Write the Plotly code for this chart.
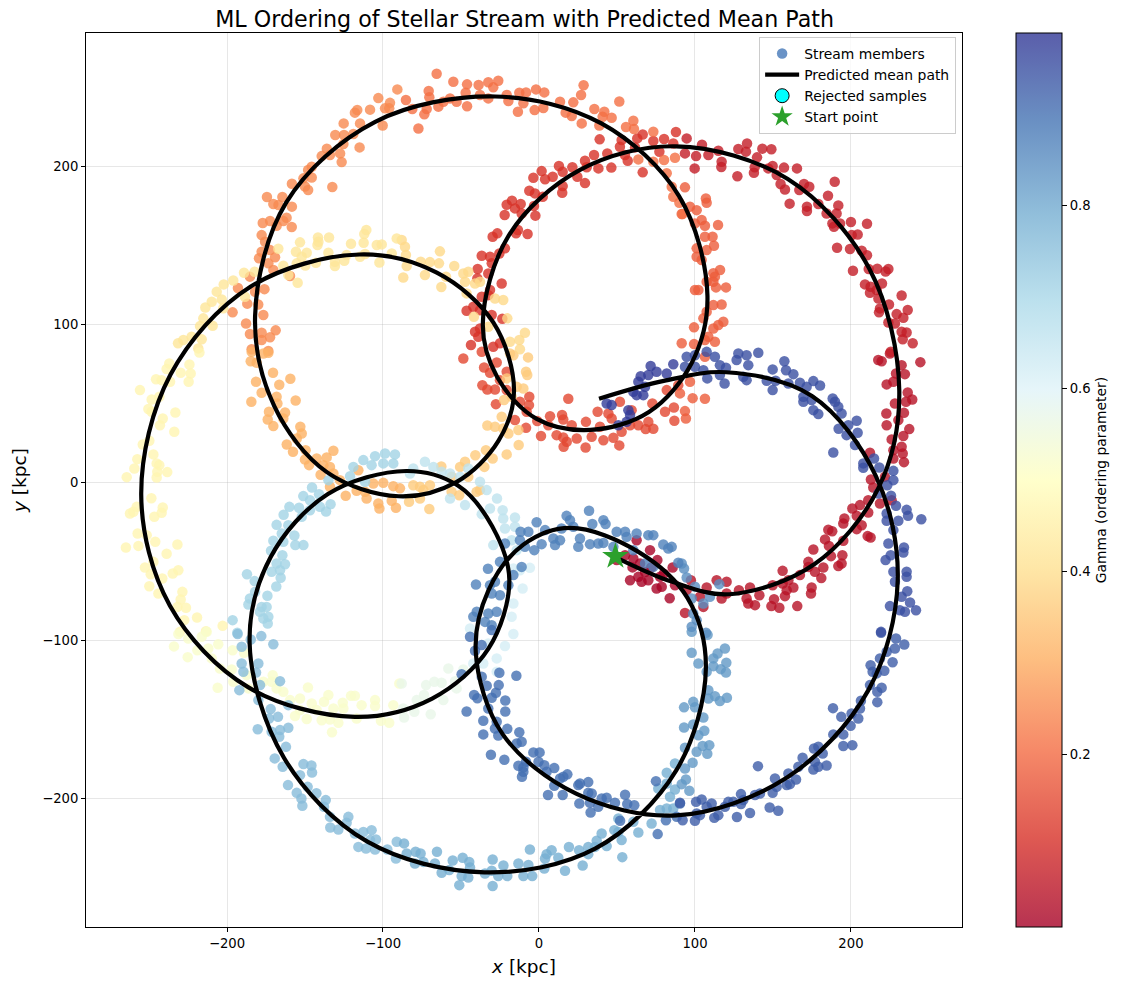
import plotly.graph_objects as go

# Stream members as (x, y) in kpc, grouped along the stream by ordering parameter.
crimson_head = [(62.6,-36.8),(71.2,-43.1),(49.8,-49.4),(55.2,-46.3),(60.5,-48.4),(64.8,-51.5),(75.9,-49.4),(58.4,-62.1),(63.7,-60),(65.8,-63.1),(70.1,-62.1),(75.4,-67.4),(78.7,-66.3),(77.6,-60),(85.7,-54.1),(83.8,-73.5),(87.2,-65.3),(68,-57),(60,-54),(72,-54),(80,-58)]
crimson_arc = [(225,81.4),(217.5,77.2),(219.7,76.5),(244.5,75.9),(232.5,74),(228.9,68.7),(234.6,68.3),(227.2,63.5),(222.9,61.8),(236.4,56.7),(239.3,52.3),(228.2,49.7),(235.3,50.8),(234,43.8),(222.7,43.4),(230.4,39.2),(222.9,36),(237.4,33.5),(233.6,29.1),(226.1,27),(232.5,22.3),(227.2,20.2),(233.2,18.1),(234,12.6),(227.2,14.9),(212.2,18.5),(212.8,1.6),(221.8,3.3),(214.3,-3.4),(211.1,-11.5),(218.6,-13.6),(226.1,-11.5),(205.8,-14.6),(200.9,-16.7),(211.1,-19.3),(203.7,-21.4),(195.8,-23.1),(195.1,-26.2),(206.9,-27.3),(203.7,-29.8),(185.5,-30.2),(188,-31.1),(210.7,-34.2),(212.6,-35.1),(183.4,-36.3),(195.1,-37.2),(185.9,-40.4),(175.9,-42.7),(194.5,-46.3),(187.2,-46.9),(194,-51.5),(191.9,-53.2),(172.7,-50.5),(172.7,-53.7),(182.3,-54.1),(176.9,-56.8),(156.2,-56.2),(167.3,-58.9),(181,-60.8),(159.9,-62.1),(156.2,-64.2),(163.1,-66.7),(149.8,-65.3),(174.8,-66.7),(174.4,-70.5),(158.8,-68.4),(157.7,-72.2),(150.7,-74.1),(165.6,-78.5),(149,-78.5),(154.1,-79.6),(141.3,-71.6),(135.3,-66.7),(128.2,-68.4),(120.3,-63.1),(113.9,-62.1),(97.4,-62.1),(107.5,-66.7),(120.3,-70.5),(117.1,-73.7),(133.1,-73.7),(134.2,-76.9),(138.5,-77.9),(103.2,-72.6),(105.4,-79),(93.6,-82.8),(94.7,-68.4)]
red_outer = [(94.7,217.5),(104.5,213.5),(93.6,208),(100.7,206.3),(108.6,207),(115,209.7),(117.1,202.7),(99.8,198.5),(116.9,199.4),(127.2,193.5),(127.8,210.8),(133.4,214.3),(132.7,209.1),(143.2,211),(149,210.6),(139.8,205.5),(138.3,199.2),(137.8,195.8),(147,198.5),(149.8,200),(157.1,199),(165.4,198.5),(152.4,194.3),(154.9,188.6),(157.7,185.2),(169.9,188.6),(173.3,186.9),(166.9,184.8),(189.6,190.1),(185.3,181.2),(160.7,176.2),(171.8,174.3),(171.8,171.5),(179.1,176),(191.9,175.1),(184.4,170),(190.8,170),(188.1,163.7),(193,163.7),(189.1,161.6),(200,164.6),(210.3,163.5),(200.5,156.3),(204.3,156.7),(191.1,148.3),(199.4,147.5),(206.9,146.4),(210.3,143.5),(201.3,133.7),(211.4,134.8),(216.9,135),(224,134.8),(222.2,133.3),(209,125.1),(212.6,123.6),(219.9,125.7),(212.2,119.8),(216.5,121.5),(232.5,118.1),(217.6,116.2),(224.4,112.4),(218.6,109.9),(236.4,108.9),(218,107.4),(229.3,106.3),(233.6,104),(224,101),(228.2,100.4),(232.5,95.1),(235.7,94.7),(233.2,90.3),(239.6,87.8),(225.5,82.5)]
red_inner = [(87.8,221.5),(66.5,220),(38.9,216.9),(63,217.5),(73.3,215.8),(80.2,217.1),(53,216.5),(86.1,214.3),(51.9,212.2),(61.6,211.8),(77.2,209),(55.1,207),(56.9,203.4),(66.5,196),(43.8,208),(35.3,207),(29.5,203.4),(38.1,198.5),(46.4,199),(30.6,199.2),(21.4,199.2),(12.8,200),(24.6,193.2),(1.7,196.8),(15.2,196.4),(-3.6,192.6),(3.9,191.6),(8.8,193.2),(29.5,189.2),(15.2,187.3),(14.9,183.1),(-6.2,184.4),(-2.6,182.7),(2.4,180.6),(-17.3,178.1),(-20.7,175.5),(-11.7,176),(-3.2,174.7),(-15.4,173.2),(-22,169),(-11.1,170),(-2.3,168.6),(-26.7,157.4),(-29.7,155.3),(-13.5,159.5),(-14.7,157.4),(-7.3,157),(-21.8,147.9),(-25.4,144.7),(-36.7,143.2),(-31.4,142.6),(-30.3,138.4),(-39.3,134.8),(-39.5,128.9),(-32.5,132),(-23.9,125.7),(-31.4,121.5),(-36.7,117.3),(-32.5,118.3),(-46.4,108.4),(-42.1,111),(-37.8,108.8),(-30.3,105.7),(-23.5,103.4),(-41,95.1),(-37.8,97.2),(-38.9,92),(-43.6,86.7),(-29.3,85.6),(-25,87.8)]
red_orange = [(-48.5,78.2),(-36.7,82.4),(-27.1,75.7),(-35.2,72.5),(-31.4,69.2),(-20.7,69.8),(-25,64.5),(-36.3,61.3),(-33.1,58.6),(-28.2,58.6),(-20.7,58.2),(-6.2,54),(-12.2,50.8),(-6.4,48.7),(-27.6,49.3),(18.8,52.7),(-7.9,44.5),(-15.4,39.2),(-8.3,34.3),(-1.1,38.6),(7.1,41.7),(14.8,42.4),(15.6,39.6),(21,36),(6,36),(1.3,29.1),(30.1,38.1),(11.3,29.7),(15.6,28.2),(24.2,27.6),(15.8,22.3),(17.8,25.5),(29.9,21.9),(33.8,28.6),(37.6,44.5),(39.1,35),(44.5,43.4),(46.6,40.2),(41.3,26.5),(47.7,28),(51.5,23.2),(51.9,50.8),(53,31.8),(59.4,45.5),(63.7,36),(58.4,36),(68.4,33.5),(70.1,38.1),(73.3,33.7),(72.7,49.7),(81.9,58.2),(80.8,44.5),(86.5,47.2),(86.8,38.8),(89.3,61.3)]
orange_right = [(93.6,186.5),(107,179.5),(107.5,176.8),(96.8,174.3),(101.1,172.1),(91.5,169.6),(104.3,165.8),(100,163.7),(106.4,162.2),(114.8,162.7),(106.4,155.3),(111.3,155.3),(112.2,149.6),(101.1,147.9),(107.5,146.8),(101.1,142.6),(104.3,140.5),(116.1,134.2),(111.8,132.1),(112.8,130),(107.5,126.8),(111.8,126.8),(119.9,123.2),(113.5,123.2),(100,121.5),(102.2,121.5),(117.1,112.4),(111.8,112),(107.5,107.8),(105.4,103.6),(118.2,101.5),(115,99.4),(99.4,97.9),(111.8,97.2),(108.6,92),(112.8,88.8),(99.4,87.3),(106.4,89.9),(91.5,87.8),(106.4,79.3),(98.5,53.1),(106.4,52.7),(93.6,44.9),(94.2,40.2),(96.8,63.5),(90.4,56.1)]
orange_top = [(-65.6,258.4),(-54.9,253.4),(-70.7,247.5),(-46.1,251.7),(-38.7,251.3),(-32.5,253),(-26.1,254),(-29.3,249.8),(-47,246.4),(-70.3,243.5),(-57,242.8),(-85.3,241.8),(-61.3,240.7),(-52.8,240.7),(-37.8,245),(-32.5,242.8),(-20.7,245),(-12.6,246.4),(-8.3,246.6),(-1.9,248.5),(3.4,246.6),(-81.2,236.1),(-64.5,237.6),(-72,236.1),(-73.5,232.7),(-46.1,237.8),(-19.6,241.1),(-10,239.7),(-13.5,234.4),(-2.8,235.4),(2.8,236.7),(-77.3,223.8),(28.6,251.1),(27,245),(13.5,240.7),(22,240.3),(51.5,240.9),(35.5,236.1),(17.1,233.8),(21,231.7),(41.9,234.4),(40.8,231.2),(46.6,230.6),(27.4,227),(38.7,225.7),(55.8,224.7),(60.5,228.7),(60.9,223.4),(63.7,204.2),(80.2,203.8),(87.2,205.3),(73.3,202.7),(81.9,195.4),(85.1,186.9),(86.1,180.6),(90,176.8),(73.3,221.7),(92,169.6)]
orange_left = [(-90.8,248.5),(-103,243),(-95.5,240),(-98.7,236.5),(-96,236.5),(-108.3,235.7),(-116.5,235.5),(-118,233.8),(-125.2,227),(-114.7,227),(-100.2,225.7),(-130.6,219.6),(-125,219.6),(-119,220.3),(-125.4,214),(-115,211.8),(-136,211),(-127.5,208),(-134,207),(-139.3,206.3),(-126.5,202.5),(-145.7,199.6),(-148,197.5),(-145.7,192.8),(-151,192.2),(-158.4,188.8),(-150,187),(-148,184.8),(-132.5,186.7),(-174.4,180.4),(-164.5,180.4),(-170.3,176),(-167,175.3),(-158.4,174.3),(-161.8,167.3),(-172.4,165.2),(-163.9,165.2),(-177.1,163.9),(-168.2,162.2),(-158.5,161.4),(-177.8,156.3),(-175.6,152.1),(-172.4,146.8),(-177.8,145.8),(-179.5,141.6),(-169.2,142.2),(-173.5,138.4),(-170.3,134.2),(-159.6,130.4),(-185.3,130),(-193,122.8),(-176,122.1),(-182,120.4),(-187,112.9),(-180,112.4),(-196.4,107.4),(-176.7,105.7),(-187.8,100.4),(-168.8,96),(-185.3,93.7),(-177.8,94.5),(-172.4,91.6),(-177.8,89.9),(-184.2,84),(-173.5,83)]
orange_low = [(-184.2,82.4),(-176.7,81.4),(-173.5,81.8),(-184.8,76.5),(-181,75.5),(-170.5,69.2),(-159.4,65.4),(-181.4,63.5),(-166.5,61.6),(-177.8,56.5),(-168.2,54),(-156,51.6),(-184.4,50.8),(-167.7,49.7),(-173.1,44.5),(-162.8,44),(-173.9,39.6),(-163.9,40.2),(-170.3,35.4),(-153,35),(-152.1,30.7),(-155.3,27.6),(-161.7,23.8),(-157.7,19.1),(-149.6,20.2),(-131.8,19.8),(-150,14.3),(-142.5,14.9),(-136.1,15.6),(-147.4,10.7),(-138.2,10.7),(-134,9.6),(-131.8,5.4),(-140,4.6),(-127.6,1.2),(-134,-3),(-115.8,7.5),(-123.9,-8.7),(-116.9,-5.5),(-110.5,-10.4),(-99.8,-0.5),(-106.2,-0.9),(-93.4,-2.6),(-103,-13.6),(-102.3,-16.7),(-94.4,-11.9),(-91.7,-16.3),(-111.5,-6.2),(-89.1,-4)]
tan_low = [(-18.6,81.4),(-16.4,80.3),(-7,78.9),(-8.3,69.8),(-7.5,67.7),(-20.7,65.6),(-14.3,60.3),(-10,59.2),(-17.5,54),(-22.4,51.9),(-23.9,41.3),(-33.1,35.8),(-28.2,35),(-22.9,33.9),(-13.2,32.9),(-19.6,30.7),(-13,23.4),(-34,20.2),(-40.8,17),(-29.7,14.9),(-20.7,17.5),(-47.4,12.8),(-35,9.6),(-50.6,9.6),(-62.6,9.9),(-56,3.3),(-45.3,3.3),(-56,-6.2),(-51.1,-8.3),(-37.8,-5.1),(-40,-6.2),(-69.9,-2),(-76.3,-3),(-80.6,-2),(-76.3,-10.4),(-83.3,-12.5),(-70.3,-17.1),(-74.1,-5.1)]
tan_high = [(-88,153.2),(-85.9,148.9),(-85.3,143.7),(-75.8,139.4),(-69.9,139.2),(-64.1,138.4),(-63.5,146),(-84.8,136.7),(-73.1,131),(-87,129.5),(-59.6,129.9),(-54.3,136.7),(-62.6,123.4),(-48.5,132),(-45.3,133.1),(-47.4,126.8),(-41,125.7),(-37.8,126.8),(-46.4,119.4),(-28.2,116.2),(-22.9,115.2),(-41.7,104.6),(-20.3,103.6),(-32.5,98.3),(-9,94.5),(-18.6,88.8),(-12.6,89.9),(-12.2,84)]
sand_arc = [(-110.7,159.5),(-112,157),(-141.7,154.8),(-134.6,154.8),(-91.2,154.2),(-153.2,151.7),(-141.4,152.1),(-120.5,150.8),(-112.4,151.5),(-104,150),(-100.8,150.4),(-167.1,147.7),(-142,150),(-155.8,145.8),(-148.9,145.1),(-135,145.1),(-152.1,142.6),(-123.3,143.7),(-111.5,144.3),(-94.4,144.7),(-143,138.8),(-130.8,139.4),(-124.8,140),(-114.7,142.6),(-102.3,139),(-155.3,138.4),(-149.8,137.1),(-130.8,136.7),(-163.9,136.9),(-189.1,132.5),(-182.3,133.1),(-160.7,131),(-154.7,126.1),(-196,127.6),(-202.1,125.1),(-206.6,120.5),(-203.4,115.6),(-209.8,114.1),(-188.5,117.3),(-213.9,110.5),(-202.4,110),(-215.2,103.6),(-217.3,98.7),(-209.2,98.9),(-222.7,92),(-216.2,90.3),(-228,89.9),(-231.4,87.8),(-218.4,84.6)]
pale_left = [(-217.7,82),(-224.1,74.4),(-237,75),(-238.7,71.5),(-229.7,69.2),(-223.3,68.7),(-245.5,65.1),(-241.9,64.5),(-236.5,63.5),(-224.6,63.5),(-255.8,58.2),(-243.4,54),(-248.3,52.3),(-250.4,46.2),(-248.3,44.5),(-233.1,44),(-241.2,40.2),(-243,36),(-233.8,31.8),(-249.8,26.1),(-254,23.8),(-247.2,17.5),(-257.5,14.5),(-245.1,11.8),(-243.4,10.7),(-259.4,8.6),(-238.3,6.3),(-244.7,6.5),(-245.1,2.9),(-264.3,3.1),(-248.5,-10.2),(-241.2,-16.1),(-257.9,-15.7),(-241.9,-19.5),(-262.2,-19.9),(-260,-18.8),(-246.6,-22),(-257.3,-32.6),(-251.5,-33.6),(-246,-37.8),(-231.8,-39.5),(-256.8,-40.4),(-264.8,-41.4),(-238.7,-45.4),(-247.2,-50.5),(-252.6,-54.1),(-231.2,-55.8),(-234.8,-57.9),(-248.9,-58.3),(-241.5,-61),(-249.8,-65.9),(-244,-70.5),(-228.6,-69.5),(-229.7,-74.3),(-231.8,-79),(-226.3,-79.6),(-219.2,-85.7),(-227.4,-87.4),(-213.5,-94.4),(-202.8,-91),(-230.1,-94.8)]
pale_low = [(-231.2,-96.2),(-224.8,-99),(-234,-104),(-216.2,-97.9),(-213,-94.8),(-205.6,-102.6),(-219,-106.4),(-225.2,-110.8),(-212,-105.3),(-196.4,-106.4),(-189.1,-108),(-209.8,-111.6),(-204.5,-118),(-197,-118.6),(-196,-126.4),(-206,-130.2),(-187.4,-122.2),(-176.7,-126.4),(-170.7,-122.2),(-171.4,-126.4),(-163.9,-132.7),(-186.3,-130.6),(-168.2,-130.6),(-148.1,-130),(-153.2,-137),(-145.7,-140.1),(-159.6,-138),(-137.8,-139),(-135,-134.8),(-120.5,-135.3),(-118,-135.3),(-113.7,-141.2),(-105.1,-138),(-105.1,-141.8),(-93.4,-141.2),(-125.8,-139.7),(-131.8,-143.3),(-125.4,-143.3),(-156.4,-148.1),(-148.9,-150),(-139.3,-150.7),(-134,-150.3),(-128.6,-152.4),(-116.9,-149.6),(-101.3,-151.1),(-96,-152.4),(-132.7,-158.3),(-89.5,-127.5),(-153.2,-144.3),(-142.5,-144.3)]
pale_green = [(-88,-127.5),(-72.4,-128.5),(-67.1,-126.4),(-62.4,-127),(-58.1,-118),(-53.8,-126),(-48.5,-118.6),(-52.8,-130.6),(-73.7,-134.8),(-78.4,-138),(-61.3,-138),(-69.4,-146.9),(-79.9,-145.4),(-86.5,-149),(-87,-143.3)]
mint_arc = [(-16.4,-96.2),(-21.8,-103.8),(-27.1,-111.6),(-32.5,-102.1),(-35.7,-114.8),(-42.1,-114.8),(-27.1,-120),(-10.5,-67.4),(-16.4,-76.9),(-17.5,-85.3),(-44.2,-92.7),(-5.8,-54.3),(-16.4,-54.7),(-12.2,-55.8)]
pale_blue = [(-73.1,12.8),(-80.6,8.6),(-82.7,5.4),(-67.7,9.6),(-62.4,6.5),(-57,5.4),(-45.3,8.6),(-50.6,3.3),(-37.8,0.2),(-33.5,-5.1),(-57,-10.4),(-26.9,-10.4),(-47.4,-14.6),(-31.4,-16.7),(-36.7,-20.3),(-23.3,-17.8),(-15.4,-22.4),(-22.9,-23.1),(-21.8,-29.4),(-15.4,-28.3),(-17.5,-36.8),(-29.3,-39.9),(-14.3,-43.1)]
light_blue = [(-105.1,16.4),(-98.7,18.1),(-92.3,17.5),(-112.6,13.9),(-99.8,11.8),(-93.4,11.8),(-119,9.6),(-107.3,10.7),(-121.1,3.7),(-111.5,0.2),(-135,1.2),(-145.5,-3.4),(-151.1,-8.9),(-141,-7.7),(-146.8,-11.5),(-160,-15.7),(-153.8,-16.3),(-133.6,-14),(-140.4,-15.7),(-136.5,-18.6),(-146.8,-17.8),(-163.7,-20.7),(-152.1,-22),(-168.2,-27.1),(-160.7,-27.3),(-164.9,-32.6),(-156.8,-33.8),(-170.3,-37.2),(-163.9,-37.8),(-156.2,-39.9),(-151,-39.9),(-171.8,-43.5),(-164.5,-46.3),(-162.8,-52),(-168.2,-51.5),(-171.4,-56.8),(-166,-55.8),(-187.2,-58.3),(-165.6,-60.6),(-182.3,-62.7),(-168.4,-66.1),(-182,-69.5),(-174.1,-72),(-185.3,-73.7),(-186.3,-77.5),(-177.8,-79),(-174.6,-79),(-178.9,-82.1),(-173.5,-85.3),(-176.7,-86.4),(-173.9,-89.5),(-196.4,-87.4),(-193.4,-95.4)]
sky_left = [(-193.2,-96.2),(-184.8,-99.6),(-178,-97.5),(-170.3,-102.6),(-190.6,-104.2),(-190.6,-114.8),(-179.9,-114.8),(-189.5,-120.1),(-181.4,-120.5),(-166,-126),(-192.1,-131.7),(-178.8,-128.5),(-179.9,-138),(-160.7,-141.2),(-172,-143.7),(-167.3,-148.6),(-173.1,-149.6),(-180.3,-156.4),(-160.7,-155.5),(-166,-157),(-171.4,-158),(-166.5,-161.2),(-162.2,-167.6),(-169.4,-174.9),(-164.3,-180.2),(-151,-178.5),(-145.9,-179.4),(-145.5,-183.8),(-153.2,-185.5),(-160.9,-191.8),(-148.3,-192.9),(-155.3,-196.7),(-142.7,-196.9),(-152.3,-200.3),(-151.7,-204.9),(-136.7,-201.3),(-137.8,-205.5),(-134,-211.9),(-122.2,-211.9),(-123.3,-215.7),(-133.8,-218.6),(-128.6,-219.9),(-118,-222.4),(-112.6,-221.4),(-107.3,-220.3),(-104.5,-226.2),(-91.2,-227.7),(-115.8,-230.9),(-105.1,-232.5),(-110.9,-231.9),(-97.2,-232.5),(-91.7,-238.2),(-108.3,-226.6)]
sky_bottom = [(-86.5,-228.7),(-84.8,-235.1),(-79.1,-234),(-75.9,-235.1),(-79.5,-241.4),(-74.1,-240.4),(-65.4,-234),(-66.7,-241.4),(-62.4,-247.3),(-55.3,-239.5),(-57.5,-245.6),(-48.9,-237.8),(-44.7,-240.4),(-44.2,-243.9),(-49.6,-249.4),(-45.3,-250.3),(-51.1,-255.1),(-29.7,-238.9),(-29.7,-255.7),(-34.6,-247.7),(-30.3,-246),(-26.1,-249.4),(-22.8,-242.7),(-20.3,-249.4),(-13.2,-241.4),(-10,-249.4),(-6.8,-242.4),(-4.3,-249.4),(-5.8,-232.5),(3.9,-238.2),(4.9,-235.5),(8.1,-233),(12.4,-237.8),(3.4,-244.6),(16.7,-246),(19.2,-231),(25.7,-233),(28,-242.7),(31.6,-230.9),(31.6,-235.5),(37,-227),(35.9,-230.9),(43.4,-230.4),(40.2,-222.4),(48.3,-220.3),(53,-226.6),(53.4,-237.4),(50.9,-212.9),(50.9,-221.4),(60.5,-215),(63.7,-221.8),(72.2,-216.1),(76.5,-193.9),(81.9,-184),(84,-199.2),(87.2,-178.1),(87.2,-194.6),(77.6,-207.6),(81.9,-206.6),(86.1,-206.6),(81.9,-190.8)]
mid_blue = [(97.9,-94.8),(108.1,-96.7),(119.2,-105.3),(114.5,-108.5),(97.9,-108),(111.8,-111.6),(102.2,-114.8),(120.1,-114.4),(111.8,-116.5),(116.5,-118.4),(119.9,-120.5),(107.5,-120.1),(108.6,-131.7),(112.8,-135.5),(120.5,-136.5),(116,-138.6),(108.6,-137),(93,-142.6),(98.9,-139.1),(100,-142.6),(105.4,-149),(98.9,-153.4),(93,-155.3),(106,-157.4),(102.2,-160.2),(109.2,-166.5),(104.9,-167.1),(107.9,-172),(93.6,-168.2),(101.1,-170.7),(98.5,-177.7),(93.6,-181.3),(94.2,-188.2),(91.5,-191.2),(96.4,-195.4)]
steel_right = [(91.5,-51.5),(93,-54.7),(94.7,-60.4),(100,-66.3),(115.6,-64.6),(109.6,-72.6),(97.9,-73.7),(105.4,-76.9),(98.9,-83.2),(101.1,-87.4),(97.9,-91.6),(107.1,-95.4)]
steel_top = [(32.1,-18.2),(17.7,-21.4),(19.9,-24.1),(34.2,-26.6),(-1.5,-25.4),(3.9,-30.4),(41.3,-24.1),(42.7,-26.6),(14.5,-29.4),(22,-28.3),(-11.8,-31.5),(-6.8,-31.5),(49.8,-31.5),(55.2,-31.5),(62.6,-32.6),(70.1,-33.6),(73.3,-33.6),(9.2,-35.7),(13.5,-36.8),(26.3,-35.7),(1.7,-39.3),(10.3,-39.9),(25.2,-41),(32.7,-39.3),(38,-38.9),(41.3,-38.5),(47.7,-41),(56.2,-34.7),(-3,-43.1),(-9,-41),(-12.2,-36.8),(79.7,-39.5),(82.9,-42),(85.1,-41),(60.5,-43.1),(89.3,-51.1),(73.3,-53.7),(68,-51.5),(-21.8,-38.9),(-25,-50.5),(-32.7,-54.9),(-40.4,-64.8),(-16.4,-58.9),(-11.1,-53.7),(-28.2,-63.1),(-31.4,-65.3),(-19.6,-65.3),(-25,-71.6),(-30.3,-70.5),(-39.9,-82.1),(-42.1,-85.3),(-32.5,-83.2),(-27.1,-82.1),(-34.6,-88.5),(-30.3,-90.6)]
steel_low = [(-44.2,-97.9),(-30.3,-93.7),(-41,-106.8),(-36.7,-103.2),(-49.6,-121.6),(-25.4,-120.7),(-14.5,-122.6),(-36.7,-123.2),(-33.5,-128.9),(-25.8,-128.5),(-27.6,-133.4),(-41.6,-134.8),(-39.5,-136.9),(-30.3,-136.5),(-21.6,-138.2),(-32.5,-143.3),(-46.4,-145.2),(-21.6,-145.2),(-35.7,-151.1),(-27.1,-151.7),(-20.3,-156.2),(-28.2,-156),(-35.7,-159.7),(-26.1,-160.4),(-12.6,-158.3),(-11.1,-164.4),(-14.3,-165.4),(-30.8,-172.6),(-22.2,-175.8),(-3.6,-171.1),(0.4,-171.1),(-8.3,-177),(-0.3,-177),(-13.2,-179.6),(-10,-180.6),(-10,-183.4),(-10.9,-186.5),(3.4,-179.2),(9.8,-181),(4.9,-183.4),(18.2,-185),(13.5,-187.6),(15.6,-186.5),(9.8,-192.2),(5.8,-198.1),(15.2,-198.1),(25.2,-191.8),(26.3,-190.8),(31.6,-189.9),(31.6,-196.7),(33.8,-197.1),(25.9,-203.4),(32.7,-203),(33.1,-209.1),(38,-205.5),(43.4,-199.8),(40.2,-200.3),(48.7,-203),(55.2,-197.9),(56.6,-203.8),(61.1,-204.5),(52,-214.4),(75,-189.3),(76.1,-222.8),(81.4,-214),(88.3,-211.9),(90.4,-203.4)]
blue_low = [(90.4,-203),(100.7,-202.4),(104.3,-200.9),(110.7,-203.4),(107.5,-205.5),(101.1,-209.7),(92.1,-214),(100,-214.4),(112.4,-212.5),(115,-210.8),(103.2,-210.8),(121.4,-202.4),(129.5,-197.5),(131,-201.3),(129.5,-203.8),(124.6,-202.4),(119.2,-205.5),(126.9,-212),(135.3,-209.5),(138.5,-198.1),(141.7,-197.1),(147.9,-206),(153.4,-208),(149.8,-196.7),(140.4,-179.8),(151.3,-187.6),(152.4,-192.9),(158.8,-191.8),(160.9,-191.2),(164.8,-188.2),(159.9,-184.4),(166.3,-180.2),(169,-174.5),(175.9,-181.9),(179.1,-180.2),(176.9,-177),(184.4,-179.4),(176.3,-168.6),(179.1,-167.5),(181.9,-171.8),(188.7,-159.7),(195.1,-159.7),(195.1,-167.1),(200.9,-166.5),(188.5,-143.1),(193.8,-148.6),(199.8,-154.3),(204.7,-149.6),(200.4,-146.5),(206.4,-138.4),(205.8,-143.3),(216.9,-139.3),(212.2,-128.5),(216.9,-132.7),(219.7,-130.2),(212.6,-115.9),(213.9,-120.1),(216.5,-121.1),(221.4,-119.4),(218.6,-111.6),(226.7,-114),(222.9,-107.4),(228.2,-105.3),(228.9,-99),(234.2,-102.8),(219.3,-95.4)]
blue_arc = [(94.7,79.3),(100,80.3),(107.5,82.4),(112.8,79.3),(127.8,81.4),(126.7,77.2),(133.1,80.3),(140.6,81.8),(134.2,74),(93.6,73),(100,73),(105.4,70.8),(116,74),(119.9,72.3),(107.9,65.6),(116,67.7),(119,62.4),(131,66.6),(133.1,64.5),(149.8,71.3),(157.3,76.5),(158.4,70.8),(163.1,68.3),(146,64.1),(151.7,64.1),(159.9,62.4),(149.8,58.2),(167.3,62.8),(175.9,63.9),(180.2,61.1),(171.6,60.3),(169.5,54),(169.5,50.8),(174.8,51.9),(188.3,52.9),(189.8,50.8),(175.9,45.5),(179.1,43),(191.9,47.6),(194,43.4),(203.7,38.8),(192.1,33.7),(198.3,36),(204.3,31.2),(197.2,29.7),(202.6,23.4),(188.7,18.7),(214.8,14.9),(207.9,11.8),(207.9,9),(218.2,9.2),(227.2,7.1),(227.2,1.2),(223.3,-2),(217.6,-7.2),(225.7,-8.7),(228.9,-15),(235.7,-17.6),(236.6,-21.4),(245.1,-23.5),(222.9,-19.9),(222.9,-24.5),(230.4,-24.5),(227.2,-30.4),(224,-38.9),(234,-41.4),(225.5,-46.3),(233.6,-44.6),(222.2,-49.4),(227.2,-56.8),(235.7,-56.8),(235.7,-60),(228.2,-63.1),(236.1,-69.1),(232.5,-72.6),(237.9,-76.2),(225,-78.5),(241.7,-81.1),(234.6,-82.1),(231.4,-81.1),(219.3,-94.8)]
navy_tail = [(71.6,73.4),(65.2,67),(70.1,67.7),(75.4,69.8),(81.9,68.7),(86.1,74.6),(63.7,63.5),(60.5,57.1),(68,60.3),(66.9,55),(62.6,55),(43.4,49.7),(46.6,48.7),(57.3,45.5),(58.4,42.4),(50.9,36),(56.2,38.1)]

stream_groups = [crimson_head, crimson_arc, red_outer, red_inner, red_orange, orange_right, orange_top, orange_left, orange_low, tan_low, tan_high, sand_arc, pale_left, pale_low, pale_green, mint_arc, pale_blue, light_blue, sky_left, sky_bottom, mid_blue, steel_right, steel_top, steel_low, blue_low, blue_arc, navy_tail]
group_gamma = [0.015, 0.045, 0.07, 0.11, 0.145, 0.18, 0.21, 0.25, 0.31, 0.36, 0.39, 0.42, 0.47, 0.52, 0.57, 0.62, 0.66, 0.71, 0.76, 0.79, 0.83, 0.85, 0.87, 0.90, 0.93, 0.95, 0.98]

# Predicted mean path, from the start point out along the spiral.
mean_path = [(48,-47),(85,-63),(122,-71),(176.5,-52),(217.5,-4),(231,58),(211.8,135),(159.5,191.8),(88,212.5),(26,197.4),(-19.4,156),(-36,100),(-26.8,66.5),(-1.5,40),(33,33),(70.5,44.4),(98,75.5),(108,118),(89.8,181),(40,227),(-28,244),(-105,228),(-162,177),(-182,105),(-169.7,48),(-136,6.3),(-90,-9),(-53,0),(-26,26),(-16,58),(-29.3,101),(-65.5,132.5),(-115,144),(-185,123.6),(-236.2,68),(-255,-8),(-236.6,-78.3),(-186.5,-129.8),(-118,-148.6),(-68.5,-137),(-32.3,-105.3),(-19,-62),(-30,-28),(-52,-2.2),(-85,7),(-135.3,-7.6),(-172,-47.5),(-185.5,-102),(-163.5,-174.5),(-110,-227.6),(-35,-247),(36,-232),(88,-182.5),(107,-118),(95.3,-73.5),(63.5,-44),(20,-29),(-10,-39.6),(-32.4,-68.5),(-40.5,-108),(-23.3,-159.5),(23.8,-197.2),(88,-211),(159,-187),(211,-132),(230,-62),(216,3.8),(175,54.5),(120,69.5),(80,64),(38.5,52.7)]
path_x = [p[0] for p in mean_path]
path_y = [p[1] for p in mean_path]

start_x = [49]
start_y = [-47]

x_ticks = [-200, -100, 0, 100, 200]
y_ticks = [-200, -100, 0, 100, 200]
gamma_ticks = [0.2, 0.4, 0.6, 0.8]

# RdYlBu at 80 % alpha, so the colour bar carries the same transparency as the points.
rdylbu = ["165,0,38", "215,48,39", "244,109,67", "253,174,97", "254,224,144", "255,255,191",
          "224,243,248", "171,217,233", "116,173,209", "69,117,180", "49,54,149"]
colorscale = [[i / 10, f"rgba({c},0.8)"] for i, c in enumerate(rdylbu)]

stream_x, stream_y, stream_gamma = [], [], []
for group, gamma in zip(stream_groups, group_gamma):
    for px, py in group:
        stream_x.append(px)
        stream_y.append(py)
        stream_gamma.append(gamma)

FONT = "DejaVu Sans"
TICK_SIZE = 13.2
fig = go.Figure()
fig.add_trace(go.Scatter(
    x=stream_x, y=stream_y, mode="markers", showlegend=False,
    marker=dict(
        size=10.5, color=stream_gamma, colorscale=colorscale, cmin=0.011, cmax=0.989,
        line=dict(width=0),
        colorbar=dict(
            x=1.0616, xanchor="left", xpad=0, y=0.5, yanchor="middle", ypad=0, len=1,
            thickness=46, outlinecolor="black", outlinewidth=1,
            tickvals=gamma_ticks, ticktext=[f"{v:.1f}" for v in gamma_ticks],
            ticks="outside", ticklen=5, tickcolor="black", tickfont=dict(family=FONT, size=TICK_SIZE, color="black"),
            title=dict(text="Gamma (ordering parameter)", side="right", font=dict(family=FONT, size=13.9, color="black")),
        ),
    ),
))
fig.add_trace(go.Scatter(x=[None], y=[None], mode="markers", name="Stream members",
                         marker=dict(size=10.5, color="#6a93c6", line=dict(width=0))))
fig.add_trace(go.Scatter(x=path_x, y=path_y, mode="lines", name="Predicted mean path",
                         line=dict(color="black", width=4.2, shape="spline", smoothing=1.0)))
fig.add_trace(go.Scatter(x=[None], y=[None], mode="markers", name="Rejected samples",
                         marker=dict(size=14, color="cyan", line=dict(color="black", width=1))))
fig.add_trace(go.Scatter(x=start_x, y=start_y, mode="markers", name="Start point",
                         marker=dict(size=20, symbol="star", color="#2ca02c", line=dict(width=0))))

axis_style = dict(
    showline=True, mirror=True, linecolor="black", linewidth=1,
    ticks="outside", ticklen=4, tickcolor="black", zeroline=False,
    showgrid=True, gridcolor="rgba(176,176,176,0.3)", gridwidth=1,
    tickfont=dict(family=FONT, size=TICK_SIZE, color="black"),
)
fig.update_layout(
    width=1121, height=989, autosize=False,
    margin=dict(l=86, r=159, t=33, b=62, pad=0, autoexpand=False),
    paper_bgcolor="white", plot_bgcolor="white",
    font=dict(family=FONT, color="black"),
    title=dict(text="ML Ordering of Stellar Stream with Predicted Mean Path",
               font=dict(family=FONT, size=22.2, color="black"),
               x=0.468, xanchor="center", y=0.981, yanchor="middle"),
    xaxis=dict(range=[-290.4, 271.2], tickvals=x_ticks,
               title=dict(text="<i>x</i> [kpc]", font=dict(family=FONT, size=18.5), standoff=10), **axis_style),
    yaxis=dict(range=[-281.6, 284.2], tickvals=y_ticks,
               title=dict(text="<i>y</i> [kpc]", font=dict(family=FONT, size=18.5), standoff=10), **axis_style),
    legend=dict(x=0.9933, xanchor="right", y=0.9955, yanchor="top",
                bgcolor="rgba(255,255,255,0.8)", bordercolor="#cccccc", borderwidth=1,
                font=dict(family=FONT, size=13.9, color="black"), itemsizing="trace", itemwidth=34),
)
fig.write_html("out.html")
